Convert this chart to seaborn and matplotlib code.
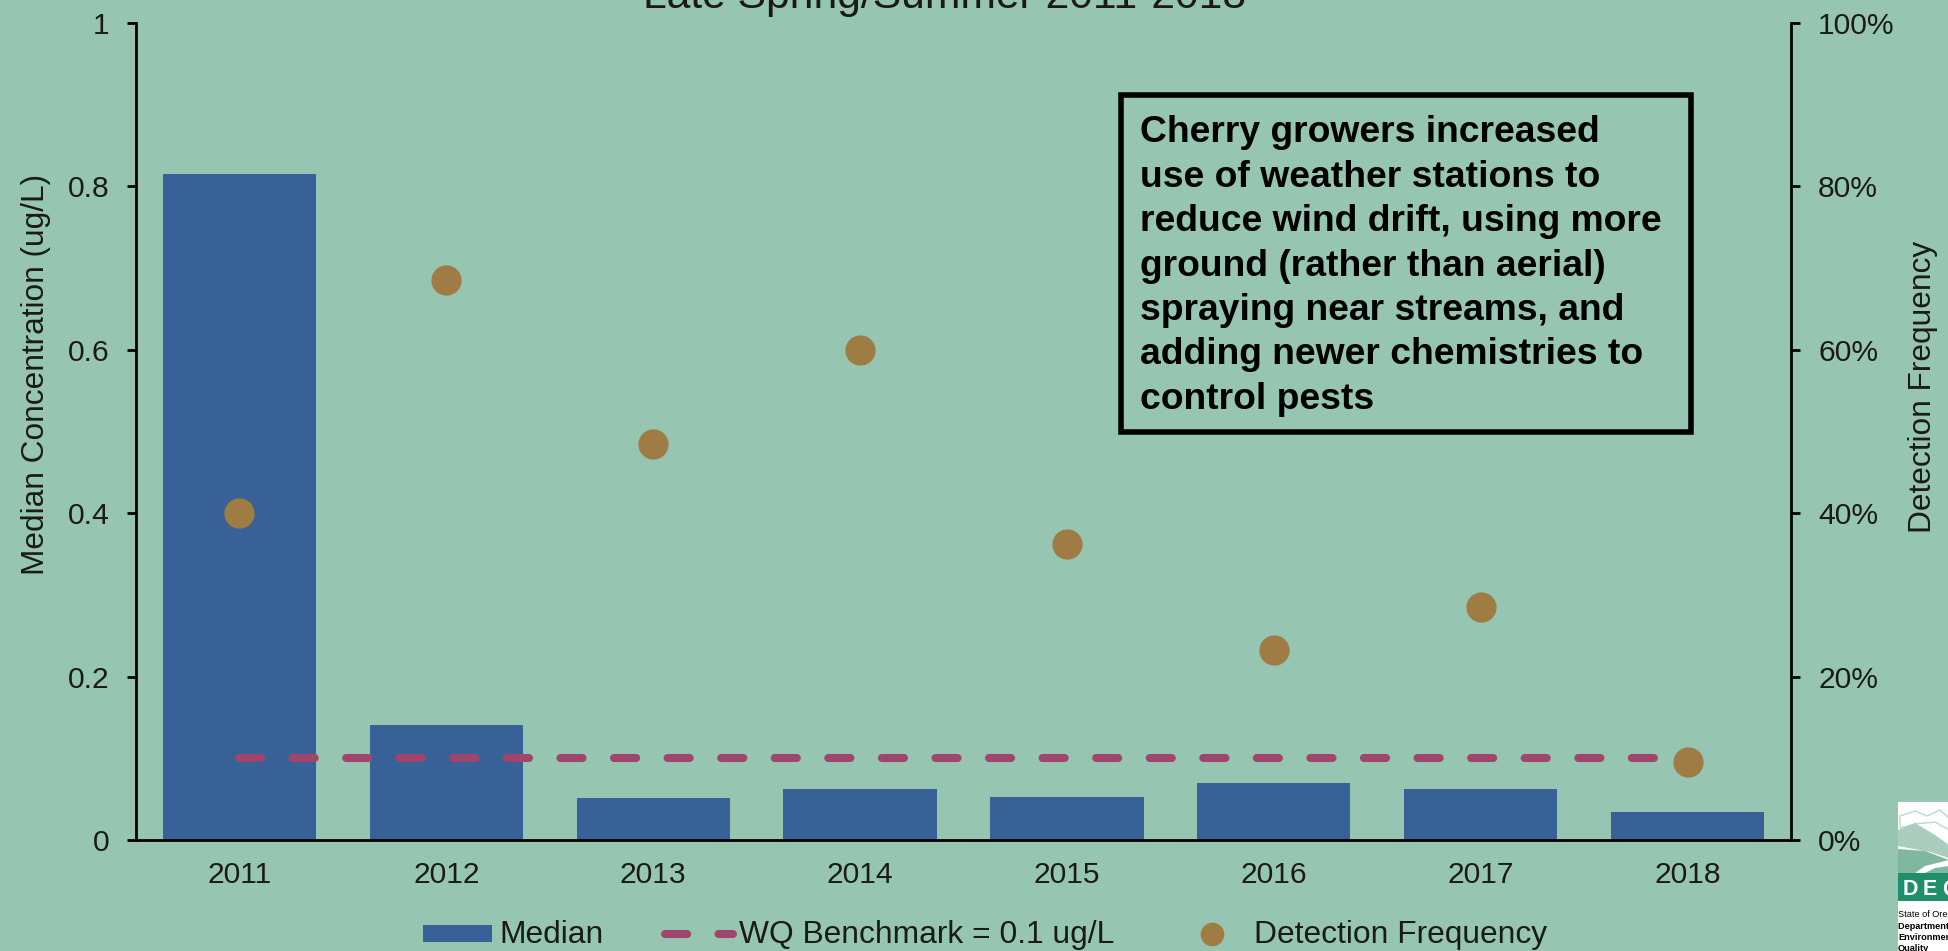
import matplotlib
matplotlib.use("Agg")
import matplotlib.pyplot as plt
import seaborn as sns
import pandas as pd
from matplotlib.patches import Rectangle, Polygon
from matplotlib.lines import Line2D
from matplotlib.ticker import FuncFormatter

years = ["2011", "2012", "2013", "2014", "2015", "2016", "2017", "2018"]
median = [0.815, 0.141, 0.051, 0.062, 0.053, 0.070, 0.062, 0.034]
detection = [40.0, 68.5, 48.5, 60.0, 36.2, 23.2, 28.5, 9.5]
benchmark = [0.1] * 8
note_lines = ["Cherry growers increased", "use of weather stations to",
              "reduce wind drift, using more", "ground (rather than aerial)",
              "spraying near streams, and", "adding newer chemistries to",
              "control pests"]
title = "Late Spring/Summer 2011-2018"

BG, BAR, LINE, DOT = "#96C5B2", "#386297", "#A0466C", "#A07C45"
INK = "#1a1a1a"
W, H = 1949, 951
L, R, T, B = 136, 1791, 22.7, 840
sns.set_theme(style="ticks")
plt.rcParams["font.family"] = ["Liberation Sans", "DejaVu Sans"]
fig = plt.figure(figsize=(W / 100, H / 100), dpi=100, facecolor=BG)
ax = fig.add_axes([L / W, 1 - B / H, (R - L) / W, (B - T) / H], facecolor="none")
df = pd.DataFrame({"year": years, "median": median, "benchmark": benchmark, "detection": detection})

sns.barplot(data=df, x="year", y="median", color=BAR, saturation=1, width=0.741, ax=ax, zorder=2,
            linewidth=0, edgecolor="none")
sns.lineplot(data=df, x="year", y="benchmark", color=LINE, lw=5.8, ax=ax, zorder=3,
             dashes=(2.75, 3.9), dash_capstyle="round")
ax.set_xlim(-0.5, 7.5)
ax.set_ylim(0, 1)
ax.set_yticks([0, 0.2, 0.4, 0.6, 0.8, 1])
ax.set_yticklabels(["0", "0.2", "0.4", "0.6", "0.8", "1"])
ax.set_xlabel("")
ax.set_ylabel("Median Concentration (ug/L)", fontsize=22.8, color=INK)
ax.yaxis.label.set_va("center")
ax.yaxis.set_label_coords((36 - L) / (R - L), (B - 374) / (B - T))
ax.tick_params(axis="x", length=0, labelsize=21.6, pad=15, labelcolor=INK)
ax.tick_params(axis="y", direction="out", length=6.5, width=2, labelsize=21.6, pad=12.5, color="black", labelcolor=INK)
for s in ["top", "right"]:
    ax.spines[s].set_visible(False)
for s in ["left", "bottom"]:
    ax.spines[s].set_linewidth(2)
    ax.spines[s].set_color("black")

ax2 = ax.twinx()
ax2.patch.set_visible(False)
sns.scatterplot(data=df, x="year", y="detection", color=DOT, s=475, linewidth=0, ax=ax2, zorder=4, clip_on=False)
ax2.set_ylim(0, 100)
ax2.set_yticks([0, 20, 40, 60, 80, 100])
ax2.yaxis.set_major_formatter(FuncFormatter(lambda v, p: f"{v:.0f}%"))
ax2.set_xlabel("")
ax2.set_ylabel("Detection Frequency", fontsize=22.8, color=INK)
ax2.yaxis.label.set_va("center")
ax2.yaxis.set_label_coords((1923 - L) / (R - L), (B - 387) / (B - T))
ax2.tick_params(axis="y", direction="out", length=6.5, width=2, labelsize=21.6, pad=13, color="black", labelcolor=INK)
for s in ["top", "left", "bottom"]:
    ax2.spines[s].set_visible(False)
ax2.spines["right"].set_linewidth(2)
ax2.spines["right"].set_color("black")

fig.text(945 / W, 1 - 8 / H, title, ha="center", va="baseline", fontsize=30.7, color=INK)

# annotation box
fig.add_artist(Rectangle((1121 / W, 1 - 432 / H), 570 / W, 337 / H, transform=fig.transFigure,
                         fc="none", ec="black", lw=4))
for i, line in enumerate(note_lines):
    fig.text(1140 / W, 1 - (142.5 + i * 44.4) / H, line, ha="left", va="baseline",
             fontsize=26.8, fontweight="bold", color="black")

# legend
fig.add_artist(Rectangle((423 / W, 1 - 942 / H), 69 / W, 17 / H, transform=fig.transFigure, fc=BAR, ec="none"))
fig.add_artist(Line2D([665 / W, 733 / W], [1 - 934 / H] * 2, transform=fig.transFigure, color=LINE, lw=5.8,
                      dashes=(2.75, 3.9), dash_capstyle="round"))
fig.add_artist(Line2D([1212 / W], [1 - 934 / H], transform=fig.transFigure, color=DOT, marker="o", ms=17, mew=0))
for x, s in [(499, "Median"), (739, "WQ Benchmark = 0.1 ug/L"), (1254, "Detection Frequency")]:
    fig.text(x / W, 1 - 943 / H, s, ha="left", va="baseline", fontsize=22.9, color=INK)

# logo
fig.add_artist(Rectangle((1898 / W, 0), 51 / W, 149 / H, transform=fig.transFigure, fc="white", ec="none"))
def poly(pts, c, ec="none"):
    fig.add_artist(Polygon([(x / W, 1 - y / H) for x, y in pts], transform=fig.transFigure, fc=c, ec=ec, lw=1))
poly([(1900, 816), (1915, 811), (1927, 816), (1940, 810), (1949, 818), (1949, 830), (1935, 822), (1915, 824), (1900, 828)], "white", "#BBD8CB")
poly([(1898, 830), (1915, 823), (1935, 835), (1949, 845), (1949, 858), (1930, 852), (1898, 846)], "#A9CDBD")
poly([(1898, 849), (1925, 851), (1949, 860), (1949, 873), (1898, 873)], "#7FB79F")
poly([(1949, 860), (1925, 866), (1915, 873), (1925, 873), (1935, 868), (1949, 866)], "white")
fig.add_artist(Rectangle((1898 / W, 1 - 901 / H), 51 / W, 28 / H, transform=fig.transFigure, fc="#1F8F6B", ec="none"))
for x, s in [(1903, "D"), (1923, "E"), (1942, "Q")]:
    fig.text(x / W, 1 - 895 / H, s, fontsize=15.5, fontweight="bold", color="white", ha="left", va="baseline")
for y, s, wt in [(917, "State of Oregon", "normal"), (929, "Department of", "bold"),
                 (940, "Environmental", "bold"), (951, "Quality", "bold")]:
    fig.text(1898 / W, 1 - y / H, s, fontsize=6.6, fontweight=wt, color="black", ha="left", va="baseline")

fig.savefig("out.png", dpi=100, facecolor=BG)
